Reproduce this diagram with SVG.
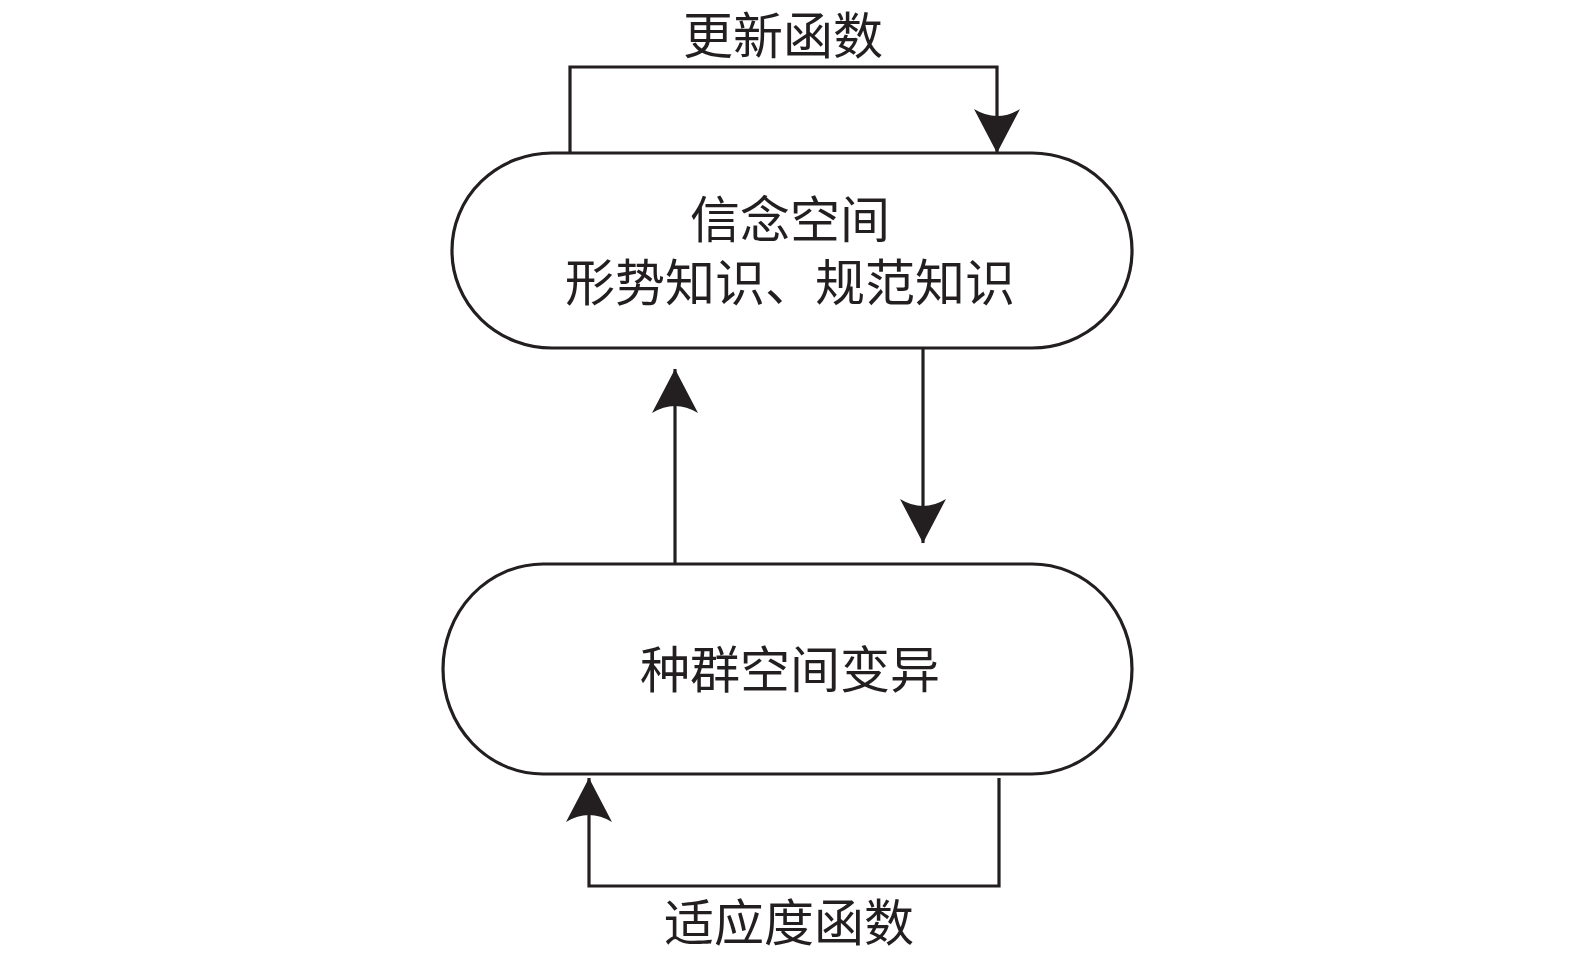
<svg xmlns="http://www.w3.org/2000/svg" width="1575" height="955" viewBox="0 0 1575 955">
<style>
.node{fill:#fff;stroke:#231f20;stroke-width:3.2}
.edge{fill:none;stroke:#231f20;stroke-width:3.2;marker-end:url(#ah)}
text{font-family:"Noto Sans CJK SC","Noto Sans CJK JP",sans-serif;font-size:50px;fill:#231f20;text-anchor:middle;dominant-baseline:central}
</style>
<defs>
<marker id="ah" markerUnits="userSpaceOnUse" markerWidth="60" markerHeight="60" viewBox="-50 -30 60 60" refX="0" refY="0" orient="auto">
<path d="M0,0 L-44,-23 Q-30,0 -44,23 Z" fill="#231f20"/>
</marker>
</defs>
<rect width="1575" height="955" fill="#fff"/>
<g id="belief">
<rect class="node" x="452" y="153" width="680" height="195" rx="100" ry="97"/>
<text x="790" y="216"><tspan x="790" y="216">信念空间</tspan><tspan x="790" y="279">形势知识、规范知识</tspan></text>
</g>
<g id="population">
<rect class="node" x="443" y="564" width="689" height="210" rx="100" ry="105"/>
<text x="790" y="666">种群空间变异</text>
</g>
<g id="connectors">
<path class="edge" d="M570,153 V67 H997 V153"/>
<path class="edge" d="M675,564 V369"/>
<path class="edge" d="M923,348 V543"/>
<path class="edge" d="M999,778 V886 H589 V778"/>
</g>
<g id="labels">
<text x="783" y="32">更新函数</text>
<text x="789" y="919">适应度函数</text>
</g>
</svg>
